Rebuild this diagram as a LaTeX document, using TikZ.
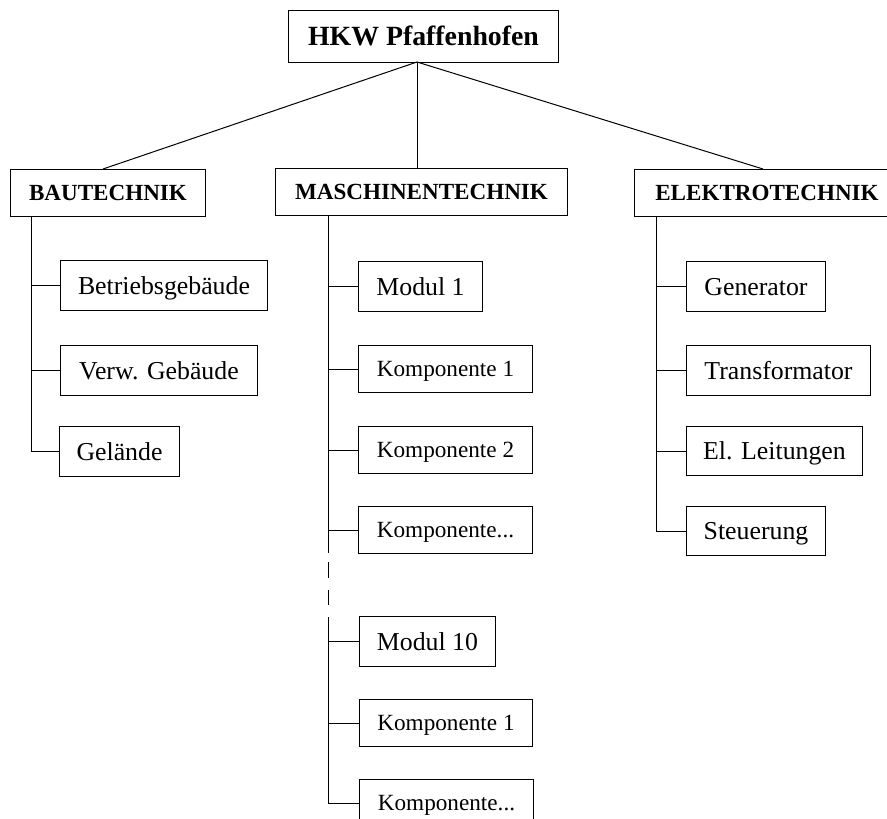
\documentclass[tikz,border=0pt]{standalone}
\usepackage{fontspec}
\setmainfont{Liberation Serif}
\begin{document}
\begin{tikzpicture}[x=1bp,y=-1bp,line width=1bp,
  box/.style={draw,rectangle,inner sep=0pt,anchor=north west,align=center,text depth=0pt},
  nrm/.style={box,font=\fontsize{25.8bp}{28bp}\selectfont,text height=17bp},
  kmp/.style={box,font=\fontsize{23.2bp}{26bp}\selectfont,text height=15.4bp},
  hdr/.style={box,font=\fontsize{23.1bp}{26bp}\selectfont\bfseries,text height=15.3bp},
  top/.style={box,font=\fontsize{27.8bp}{30bp}\selectfont\bfseries,text height=18.4bp},
  conn/.style={draw,line width=1bp}]
\useasboundingbox (0,0) rectangle (887,819);
\clip (0,0) rectangle (887,819);
% top
\node[top,minimum width=270bp,minimum height=52bp] (hkw) at (288,10) {HKW Pfaffenhofen};
% headers
\node[hdr,minimum width=195bp,minimum height=47bp] (bau) at (10,169) {BAUTECHNIK};
\node[hdr,minimum width=292bp,minimum height=47bp] (masch) at (275,168) {MASCHINENTECHNIK};
\node[hdr,minimum width=265bp,minimum height=47bp] (elek) at (634,169) {ELEKTROTECHNIK};
\coordinate (hb) at (417,62);
\draw[conn] (hb) -- (bau.north -| 103,0);
\draw[conn] (hb) -- (masch.north -| hb);
\draw[conn] (hb) -- (elek.north -| 763,0);
% Bautechnik
\node[nrm,minimum width=207bp,minimum height=50bp] (b1) at (60,260) {Betriebsgebäude};
\node[nrm,minimum width=197bp,minimum height=50bp] (b2) at (60,345) {Verw. Gebäude};
\node[nrm,minimum width=120bp,minimum height=50bp] (b3) at (59,426) {Gelände};
\coordinate (bt) at (31,216);
\draw[conn] (bt) |- (b1.west);
\draw[conn] (bt) |- (b2.west);
\draw[conn] (bt) |- (b3.west);
% Maschinentechnik
\node[nrm,minimum width=124bp,minimum height=50bp] (m1) at (358,261) {Modul 1};
\node[kmp,minimum width=174bp,minimum height=47bp] (m2) at (358,345) {Komponente 1};
\node[kmp,minimum width=174bp,minimum height=47bp] (m3) at (358,426) {Komponente 2};
\node[kmp,minimum width=174bp,minimum height=47bp] (m4) at (358,506) {Komponente...};
\node[nrm,minimum width=136bp,minimum height=50bp] (m5) at (359,616) {Modul 10};
\node[kmp,minimum width=173bp,minimum height=47bp] (m6) at (359,699) {Komponente 1};
\node[kmp,minimum width=174bp,minimum height=47bp] (m7) at (359,779) {Komponente...};
\coordinate (mt) at (328,215);
\coordinate (mtA) at (328,553);
\coordinate (md1a) at (328,562);
\coordinate (md1b) at (328,578);
\coordinate (md2a) at (328,590);
\coordinate (md2b) at (328,605);
\coordinate (mtB) at (328,617);
\draw[conn] (mt) -- (mtA);
\draw[conn] (mt) |- (m1.west);
\draw[conn] (mt) |- (m2.west);
\draw[conn] (mt) |- (m3.west);
\draw[conn] (mt) |- (m4.west);
\draw[conn] (md1a) -- (md1b);
\draw[conn] (md2a) -- (md2b);
\draw[conn] (mtB) |- (m5.west);
\draw[conn] (mtB) |- (m6.west);
\draw[conn] (mtB) |- (m7.west);
% Elektrotechnik
\node[nrm,minimum width=139bp,minimum height=50bp] (e1) at (686,261) {Generator};
\node[nrm,minimum width=184bp,minimum height=50bp] (e2) at (686,345) {Transformator};
\node[nrm,minimum width=176bp,minimum height=49bp] (e3) at (686,426) {El. Leitungen};
\node[nrm,minimum width=139bp,minimum height=49bp] (e4) at (686,506) {Steuerung};
\coordinate (et) at (656,216);
\draw[conn] (et) |- (e1.west);
\draw[conn] (et) |- (e2.west);
\draw[conn] (et) |- (e3.west);
\draw[conn] (et) |- (e4.west);
\end{tikzpicture}
\end{document}
